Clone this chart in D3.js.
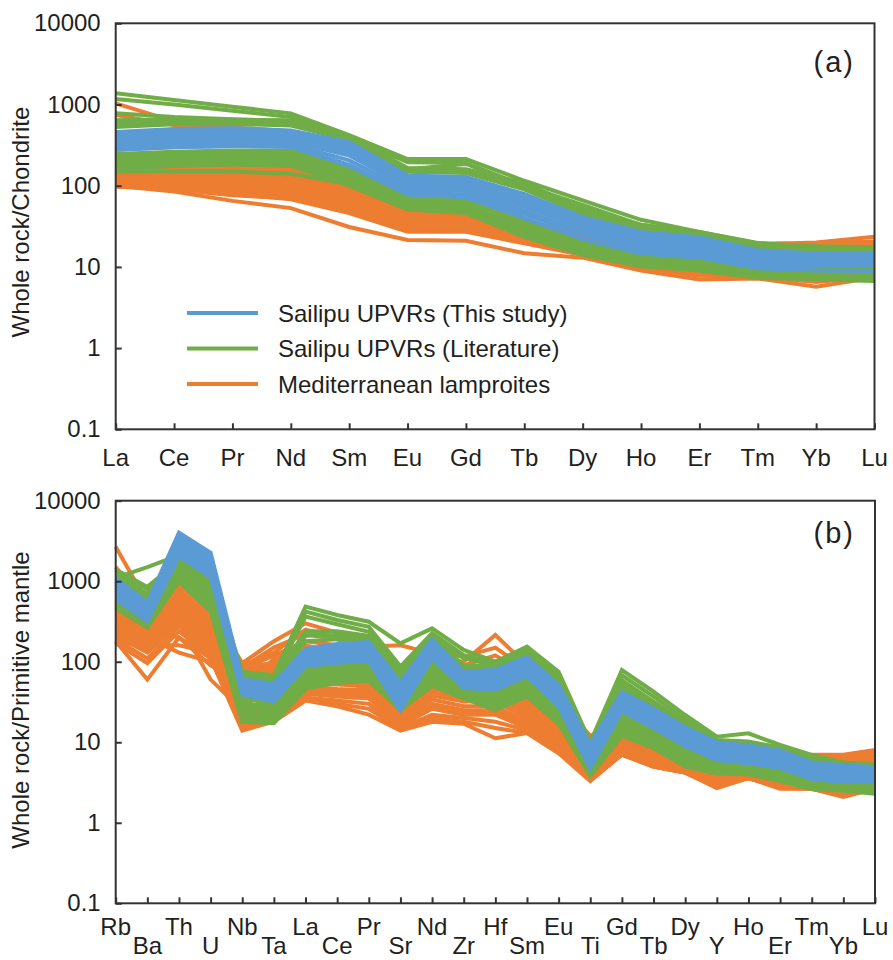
<!DOCTYPE html>
<html>
<head>
<meta charset="utf-8">
<script src="https://cdn.jsdelivr.net/npm/d3@7"></script>
<style>
  body { margin: 0; background: #fff; }
  svg text { font-family: "Liberation Sans", Arial, sans-serif; fill: #231f20; }
</style>
</head>
<body>
<div id="chart"></div>
<script>
// element order on the x axes
var elementsA = ["La", "Ce", "Pr", "Nd", "Sm", "Eu", "Gd", "Tb", "Dy", "Ho", "Er", "Tm", "Yb", "Lu"];
var elementsB = ["Rb", "Ba", "Th", "U", "Nb", "Ta", "La", "Ce", "Pr", "Sr", "Nd", "Zr", "Hf", "Sm", "Eu",
                 "Ti", "Gd", "Tb", "Dy", "Y", "Ho", "Er", "Tm", "Yb", "Lu"];
var yTicks = [0.1, 1, 10, 100, 1000, 10000];
var legendLabels = ["Sailipu UPVRs (This study)", "Sailipu UPVRs (Literature)", "Mediterranean lamproites"];

// (a) chondrite normalised REE
var blueA = [
    [460, 500, 510, 480, 345, 134, 128, 79, 41, 27, 23.2, 16, 14.6, 14.6],
    [420, 460, 470, 445, 315, 124, 118, 72, 38, 25, 21.5, 15, 13.8, 13.8],
    [385, 420, 435, 410, 285, 115, 110, 66, 35, 23, 20, 14, 13, 13],
    [355, 385, 400, 380, 260, 106, 102, 60, 32, 21, 18.5, 13, 12.2, 12.4],
    [325, 355, 365, 350, 235, 98, 94, 55, 30, 19.5, 17, 12.2, 11.5, 11.7],
    [300, 325, 335, 325, 205, 89, 86, 49, 27, 17.8, 15.5, 11.3, 10.8, 11.1],
    [275, 297, 307, 307, 181, 82, 78, 44.5, 25, 16.3, 14.2, 10.6, 10.2, 10.6],
    [280, 300, 310, 300, 175, 78, 72, 40, 22, 14.6, 13, 9.6, 9, 8.9]
];
var greenA = [
    [1374, 1135, 940, 778, 421, 213, 213, 115, 66, 38, 27, 19.7, 17, 15],
    [1169, 1000, 840, 700, 400, 195, 190, 100, 58, 33, 25, 18.5, 16, 14],
    [780, 700, 660, 620, 380, 160, 185, 98, 55, 31, 24, 18, 15.5, 13.5],
    [640, 660, 650, 640, 410, 165, 160, 108, 52, 33, 27, 19.5, 18, 17.5],
    [580, 610, 610, 590, 385, 155, 150, 98, 48, 31, 26, 18.5, 17, 16.5],
    [530, 570, 575, 550, 370, 148, 143, 90, 45, 29.5, 25, 17.5, 16, 16],
    [245, 262, 272, 272, 160, 72, 70, 39, 22, 14.6, 12.8, 9.6, 9.2, 9.6],
    [225, 242, 252, 250, 145, 66, 64, 35, 20, 13.5, 11.8, 9, 8.6, 9],
    [205, 222, 232, 228, 130, 61, 58, 31, 18, 12.5, 11, 8.4, 8.1, 8.3],
    [188, 205, 212, 208, 118, 57, 53, 28, 16.5, 11.5, 10.2, 7.9, 7.6, 7.7],
    [172, 188, 195, 190, 108, 53, 49, 25.5, 15, 10.7, 9.5, 7.5, 7.2, 7.1],
    [160, 175, 182, 175, 100, 51, 46, 23.5, 14, 10.2, 9, 7.3, 7, 6.7],
    [150, 150, 150, 140, 105, 58, 55, 28, 16, 11, 9.7, 7.5, 7.2, 7.0]
];
var orangeA = [
    [1035, 620, 520, 470, 320, 110, 100, 60, 32, 20, 17, 13, 12, 12],
    [740, 560, 480, 430, 290, 100, 92, 55, 30, 19, 16, 12.5, 11.5, 11.5],
    [100, 85, 65, 53, 31, 21.5, 21, 14.7, 13, 9, 7, 7.2, 5.7, 7.4],
    [112, 95, 80, 68, 46, 27, 27, 19.5, 14, 9.5, 7.8, 7.6, 6.5, 7.6],
    [120, 102, 88, 76, 50, 29, 29, 21, 14.5, 9.8, 8.3, 8, 7.5, 8],
    [130, 112, 96, 84, 55, 31, 31, 22, 15, 10, 8.6, 8.8, 8.4, 8.8],
    [140, 122, 106, 92, 60, 33, 33, 23, 15.5, 10.4, 9, 9.5, 9.4, 9.6],
    [150, 132, 116, 100, 65, 35, 35, 24.5, 16, 10.8, 9.5, 10.5, 10.5, 10.8],
    [160, 142, 126, 110, 70, 37, 37, 26, 17, 11.5, 10.2, 12, 12, 12.5],
    [170, 152, 136, 120, 76, 40, 39, 28, 19, 14, 13, 14, 14, 14.5],
    [180, 165, 148, 130, 82, 43, 42, 30, 21, 16, 15, 16, 16, 16.5],
    [190, 175, 160, 140, 88, 46, 45, 32, 23, 18, 17, 17.5, 17.5, 18],
    [200, 186, 170, 150, 94, 49, 48, 34, 25, 20, 18.5, 18.5, 18.5, 19.5],
    [210, 195, 180, 160, 98, 51, 50, 36, 27, 22, 20, 19.4, 19.5, 20.5],
    [155, 160, 165, 160, 100, 50, 48, 35, 26, 21, 19, 19, 20, 23.5],
    [145, 138, 128, 118, 86, 47, 45, 31, 20, 14.5, 12.5, 15, 15.5, 15.5],
    [125, 116, 108, 98, 72, 42, 41, 28, 18, 12.8, 11.5, 13, 12.5, 12.5],
    [106, 100, 92, 85, 62, 38, 37, 26, 17, 12, 10.8, 11, 10.5, 11],
    [116, 90, 76, 70, 48, 30, 30, 21.5, 15, 10.3, 8.8, 9.2, 8.8, 9.2],
    [97, 92, 84, 76, 54, 34, 33, 24, 16, 11, 9.6, 8.5, 8, 8.5]
];

// (b) primitive mantle normalised trace elements
var blueB = [
    [1080, 540, 4000, 2250, 61, 53, 145, 166, 175, 55, 190, 74, 80, 114, 51, 9.4, 42, 26, 15.4, 10, 9.1, 7.9, 5.6, 5.2, 4.9],
    [1000, 500, 3600, 2000, 57.5, 50, 133, 152, 160, 49, 173, 69, 74, 104, 46, 8.6, 38.5, 24, 14.2, 9.3, 8.5, 7.4, 5.2, 4.9, 4.6],
    [920, 460, 3300, 1800, 54, 46.5, 124, 141, 148, 44, 160, 65, 68, 96, 42, 7.8, 35.5, 22, 13, 8.7, 7.9, 6.9, 4.9, 4.6, 4.3],
    [850, 430, 3000, 1650, 51, 43.5, 116, 131, 137, 40, 148, 61, 63, 89, 39, 7.1, 33, 20.5, 12, 8.1, 7.3, 6.4, 4.6, 4.3, 4],
    [780, 400, 2750, 1500, 48, 40.5, 108, 121, 127, 36, 137, 57, 58, 83, 36, 6.5, 30.5, 19, 11.1, 7.5, 6.8, 5.9, 4.3, 4, 3.8],
    [720, 370, 2500, 1350, 45, 37.5, 101, 112, 118, 32, 127, 53, 53, 77, 33, 5.9, 28, 17.5, 10.3, 7, 6.3, 5.5, 4, 3.7, 3.6],
    [660, 345, 2250, 1230, 42, 34.5, 94, 104, 110, 28, 118, 50, 49, 71, 30.5, 5.3, 26, 16.2, 9.6, 6.5, 5.9, 5.1, 3.7, 3.45, 3.4],
    [600, 320, 2050, 1120, 39, 32, 88, 97, 102, 25, 110, 47, 45, 66, 28, 4.8, 24.5, 15, 9, 6, 5.5, 4.8, 3.5, 3.2, 3.2]
];
var greenB = [
    [1100, 1500, 2100, 1300, 75, 68, 483, 380, 314, 169, 260, 140, 100, 154, 75, 10, 79, 42.5, 21.8, 11.7, 12.9, 9.25, 6.95, 5.6, 5.3],
    [1400, 850, 1800, 1100, 72, 65, 419, 330, 272, 87, 226, 121, 95, 140, 68, 9.5, 68, 37, 19.3, 10.7, 10.2, 8.6, 6.5, 5.4, 5.2],
    [1300, 800, 1700, 1000, 68, 62, 363, 292, 236, 78, 200, 110, 90, 125, 62, 9, 59, 32, 17.5, 10, 9.7, 8.2, 6.2, 5.3, 5.1],
    [1200, 700, 2000, 1000, 70, 62, 240, 240, 210, 75, 205, 90, 88, 130, 60, 10, 52, 30, 17, 10.5, 9.8, 8.4, 6, 5.4, 5.1],
    [1100, 650, 1900, 950, 66, 59, 210, 215, 200, 70, 195, 85, 85, 125, 57, 9.7, 48, 28.5, 16.5, 10.3, 9.6, 8.2, 5.9, 5.3, 5],
    [1000, 600, 1800, 900, 63, 56, 180, 190, 190, 65, 185, 80, 82, 118, 55, 9.5, 45, 27, 16, 10.1, 9.4, 8, 5.8, 5.2, 4.9],
    [580, 340, 1750, 880, 35, 30, 80, 88, 92, 45, 95, 45, 40, 62, 25, 5, 23, 14, 8.4, 5.7, 5.2, 4.5, 3.3, 3, 3],
    [560, 320, 1600, 800, 31, 27, 72, 80, 84, 41, 87, 43, 37, 57, 23.5, 4.8, 21, 13, 7.8, 5.4, 5, 4.3, 3.2, 2.9, 2.9],
    [540, 305, 1450, 720, 28, 24.5, 66, 73, 77, 37, 79, 41, 34, 52, 22, 4.6, 19, 12, 7.2, 5.1, 4.8, 4.1, 3.1, 2.8, 2.75],
    [520, 290, 1300, 640, 25, 22, 60, 67, 70, 33, 71, 39, 31, 48, 20.5, 4.4, 17, 11, 6.6, 4.8, 4.6, 3.9, 3, 2.7, 2.6],
    [500, 280, 1200, 560, 22, 20, 55, 62, 65, 30, 64, 37, 29, 44, 19, 4.2, 15, 10, 6, 4.5, 4.4, 3.7, 2.85, 2.6, 2.5],
    [480, 272, 1100, 490, 20, 18.5, 50, 58, 61, 27, 57, 36, 27, 40, 18, 4, 13.5, 9.2, 5.5, 4.3, 4.2, 3.5, 2.7, 2.55, 2.4],
    [460, 265, 1000, 420, 18, 17.2, 46, 55, 58, 25, 50, 35, 25, 37, 17, 3.8, 12, 8.5, 5, 4.1, 4, 3.3, 2.6, 2.5, 2.3]
];
var orangeB = [
    [2680, 540, 1050, 450, 90, 130, 250, 200, 150, 90, 110, 100, 215, 90, 33, 12, 20, 10, 6.5, 5, 4.5, 4.2, 7, 7, 8],
    [1500, 500, 1000, 420, 96, 180, 300, 230, 155, 160, 127, 116, 150, 80, 30, 11, 18, 9.5, 6, 6.6, 4.4, 4, 6.5, 6.8, 7.5],
    [650, 480, 950, 400, 85, 150, 220, 190, 140, 70, 100, 90, 120, 70, 28, 10, 17, 9, 5.8, 5, 4.3, 4, 6, 6.5, 7],
    [600, 450, 900, 380, 80, 120, 180, 160, 120, 60, 90, 80, 100, 60, 26, 9, 15, 8.5, 5.6, 4.8, 4.2, 3.9, 5.5, 6, 6.5],
    [560, 420, 850, 360, 75, 100, 150, 130, 110, 55, 80, 70, 85, 50, 24, 8, 14, 8, 5.4, 4.7, 4.1, 3.8, 5, 5.5, 6],
    [520, 390, 800, 340, 72, 90, 130, 115, 100, 50, 75, 65, 75, 45, 22, 7.5, 13, 7.5, 5.3, 4.6, 4, 3.7, 4.6, 5, 5.5],
    [480, 360, 750, 320, 70, 85, 120, 105, 90, 45, 70, 60, 70, 40, 20, 7, 12, 7, 5.2, 4.5, 3.95, 3.6, 4.3, 4.6, 5],
    [440, 330, 700, 300, 68, 80, 110, 98, 85, 40, 65, 56, 62, 37, 18.5, 6.5, 11, 6.6, 5.1, 4.4, 3.9, 3.5, 4, 4.2, 4.6],
    [400, 300, 650, 280, 60, 75, 100, 90, 80, 36, 60, 52, 55, 34, 17, 6, 10.5, 6.3, 5, 4.3, 3.85, 3.4, 3.7, 3.9, 4.2],
    [370, 270, 600, 260, 50, 70, 90, 82, 75, 32, 55, 48, 50, 31, 16, 5.6, 10, 6, 4.9, 4.2, 3.8, 3.3, 3.5, 3.6, 3.9],
    [340, 250, 560, 240, 42, 60, 80, 75, 68, 28, 50, 44, 45, 28, 15, 5.2, 9.5, 5.8, 4.8, 4.1, 3.75, 3.2, 3.3, 3.4, 3.6],
    [310, 230, 520, 220, 36, 50, 70, 68, 62, 25, 46, 40, 40, 25, 14, 5, 9, 5.6, 4.7, 4, 3.7, 3.1, 3.1, 3.2, 3.4],
    [290, 210, 480, 200, 30, 40, 62, 60, 56, 22, 42, 36, 36, 22, 13, 4.8, 8.6, 5.4, 4.6, 3.9, 3.65, 3, 3, 3, 3.2],
    [270, 190, 440, 180, 26, 34, 55, 52, 50, 20, 38, 32, 32, 20, 12, 4.6, 8.2, 5.3, 4.5, 3.8, 3.6, 2.95, 2.9, 2.8, 3],
    [250, 170, 400, 165, 23, 30, 50, 46, 44, 18, 34, 28, 28, 18, 11, 4.4, 7.8, 5.2, 4.4, 3.6, 3.6, 2.9, 2.8, 2.6, 2.9],
    [230, 150, 360, 150, 20, 26, 45, 42, 40, 17, 30, 25, 25, 16.5, 10, 4.2, 7.5, 5.1, 4.3, 3.4, 3.6, 2.85, 2.75, 2.4, 2.8],
    [210, 130, 320, 140, 18, 23, 40, 37, 35, 16, 26, 22, 22, 15, 9.5, 4, 7.2, 5, 4.25, 3.2, 3.6, 2.8, 2.7, 2.3, 2.7],
    [190, 110, 280, 125, 16, 21, 36, 33, 30, 15, 22, 20, 18, 14, 9, 3.8, 7, 5, 4.2, 3, 3.6, 2.75, 2.7, 2.2, 2.65],
    [170, 96, 240, 115, 14.5, 19, 34, 30, 26, 14.5, 20, 18, 15, 13, 8, 3.5, 7, 5, 4.2, 2.7, 3.6, 2.7, 2.65, 2.1, 2.65],
    [180, 60, 200, 110, 14, 18, 33, 28, 22, 14, 18, 17, 11.2, 13, 7.3, 3.3, 7, 5, 4.2, 2.8, 3.6, 2.65, 2.65, 2.15, 2.7],
    [220, 160, 160, 130, 45, 90, 110, 60, 45, 35, 50, 45, 60, 35, 18, 6, 12, 7, 5, 4.5, 4, 3.5, 3.8, 4, 4.5],
    [300, 200, 130, 100, 40, 110, 160, 130, 100, 50, 70, 60, 80, 40, 20, 7, 13, 7.5, 5.2, 4.6, 4.1, 3.6, 4.2, 4.4, 4.8],
    [350, 280, 300, 60, 25, 70, 90, 70, 60, 24, 40, 34, 38, 24, 13, 5, 9, 6, 4.7, 4.2, 3.9, 3.3, 3.4, 3.5, 3.7],
    [400, 240, 200, 90, 55, 45, 120, 100, 85, 40, 65, 55, 60, 30, 15, 5.5, 10, 6.2, 4.8, 4.3, 3.8, 3.4, 3.6, 3.8, 4],
    [450, 350, 1000, 470, 88, 95, 140, 120, 95, 42, 68, 58, 65, 38, 19, 6.8, 12.5, 7.2, 5.2, 4.6, 4, 3.6, 4.4, 4.8, 5.2],
    [330, 260, 850, 350, 65, 55, 75, 65, 58, 30, 48, 42, 42, 27, 14.5, 5.1, 9.2, 5.9, 4.75, 4.1, 3.7, 3.15, 3.2, 3.3, 3.5],
    [260, 200, 620, 270, 33, 38, 58, 55, 52, 21, 40, 34, 34, 21, 12.5, 4.7, 8.4, 5.35, 4.55, 3.85, 3.62, 2.98, 2.95, 2.9, 3.1],
    [200, 140, 420, 190, 22, 27, 43, 40, 38, 16.5, 28, 24, 23.5, 16, 9.8, 4.1, 7.4, 5.05, 4.28, 3.3, 3.6, 2.82, 2.72, 2.35, 2.75]
];

var colors = { blue: "#5b9bd5", green: "#70ad47", orange: "#ed7d31" };

var svg = d3.select("#chart")
    .append("svg")
    .attr("width", 893)
    .attr("height", 960);

function drawPanel(cfg) {
    var x = d3.scalePoint()
        .domain(cfg.elements)
        .range([cfg.left, cfg.right]);

    var y = d3.scaleLog()
        .domain([0.1, 10000])
        .range([cfg.bottom, cfg.top]);

    var g = svg.append("g");

    var line = d3.line()
        .x(function(d, i) { return x(cfg.elements[i]); })
        .y(function(d) { return y(d); });

    // orange first, then green, blue on top
    [[cfg.orange, colors.orange], [cfg.green, colors.green], [cfg.blue, colors.blue]].forEach(function(s) {
        g.append("g")
            .selectAll("path")
            .data(s[0])
            .enter()
            .append("path")
            .attr("d", line)
            .attr("fill", "none")
            .attr("stroke", s[1])
            .attr("stroke-width", 4)
            .attr("stroke-linejoin", "miter");
    });

    // frame
    g.append("rect")
        .attr("x", cfg.left)
        .attr("y", cfg.top)
        .attr("width", cfg.right - cfg.left)
        .attr("height", cfg.bottom - cfg.top)
        .attr("fill", "none")
        .attr("stroke", "#333")
        .attr("stroke-width", 2);

    // y axis, ticks pointing inward
    var yAxis = g.append("g")
        .attr("transform", "translate(" + cfg.left + ",0)")
        .call(d3.axisLeft(y)
            .tickValues(yTicks)
            .tickSize(-6)
            .tickPadding(15)
            .tickFormat(function(d) { return String(d); }));
    yAxis.select(".domain").remove();
    yAxis.selectAll("line").attr("stroke", "#333").attr("stroke-width", 2);
    yAxis.selectAll("text")
        .attr("font-size", 24)
        .attr("font-family", "Liberation Sans, Arial, sans-serif")
        .attr("fill", "#231f20");

    // x axis ticks
    var xAxis = g.append("g")
        .attr("transform", "translate(0," + cfg.bottom + ")")
        .call(d3.axisBottom(x)
            .tickSize(-6)
            .tickFormat(""));
    xAxis.select(".domain").remove();
    xAxis.selectAll("line").attr("stroke", "#333").attr("stroke-width", 2);

    // x labels
    g.append("g")
        .selectAll("text")
        .data(cfg.elements)
        .enter()
        .append("text")
        .attr("x", function(d) { return x(d); })
        .attr("y", function(d, i) {
            return cfg.stagger && i % 2 == 1 ? cfg.labelY2 : cfg.labelY;
        })
        .attr("text-anchor", "middle")
        .attr("font-size", 24)
        .text(function(d) { return d; });

    // y title
    g.append("text")
        .attr("transform", "translate(29," + cfg.titleY + ") rotate(-90)")
        .attr("text-anchor", "middle")
        .attr("font-size", 24)
        .text(cfg.title);

    // panel letter
    g.append("text")
        .attr("x", 855)
        .attr("y", cfg.letterY)
        .attr("text-anchor", "end")
        .attr("font-size", 29)
        .attr("letter-spacing", 2)
        .text(cfg.letter);

    if (cfg.legend) {
        var lg = g.append("g");
        var legendColors = [colors.blue, colors.green, colors.orange];
        legendLabels.forEach(function(label, i) {
            var ly = 313 + i * 35.5;
            lg.append("line")
                .attr("x1", 187)
                .attr("x2", 258)
                .attr("y1", ly)
                .attr("y2", ly)
                .attr("stroke", legendColors[i])
                .attr("stroke-width", 4);
            lg.append("text")
                .attr("x", 278)
                .attr("y", ly + 8.5)
                .attr("font-size", 24)
                .text(label);
        });
    }
}

drawPanel({
    elements: elementsA,
    blue: blueA, green: greenA, orange: orangeA,
    left: 115.7, right: 874.5, top: 23.3, bottom: 429.3,
    labelY: 466, stagger: false,
    title: "Whole rock/Chondrite", titleY: 222,
    letter: "(a)", letterY: 72,
    legend: true
});

drawPanel({
    elements: elementsB,
    blue: blueB, green: greenB, orange: orangeB,
    left: 115.7, right: 875, top: 500.7, bottom: 903.3,
    labelY: 935, labelY2: 954, stagger: true,
    title: "Whole rock/Primitive mantle", titleY: 700,
    letter: "(b)", letterY: 543,
    legend: false
});
</script>
</body>
</html>
